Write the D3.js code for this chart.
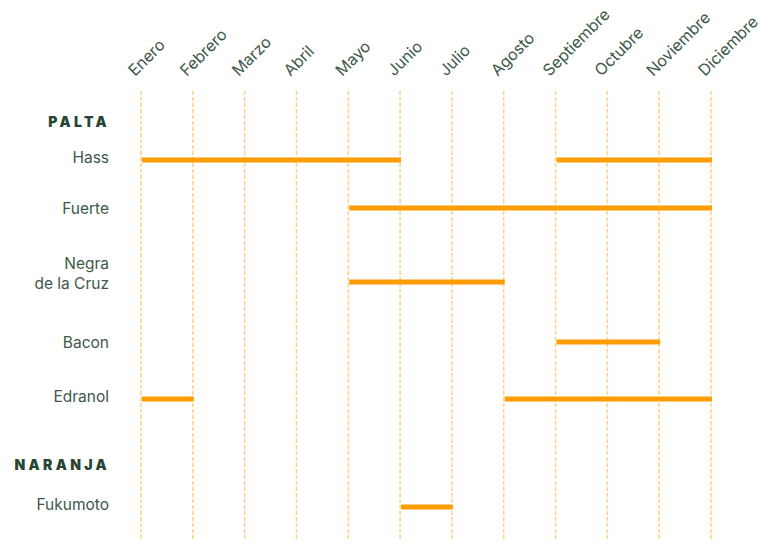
<!DOCTYPE html>
<html>
<head>
<meta charset="utf-8">
<script src="https://cdn.jsdelivr.net/npm/d3@7"></script>
<style>
  html, body { margin: 0; padding: 0; background: #fff; }
  svg { display: block; font-family: Inter, "Noto Sans", sans-serif; }
</style>
</head>
<body>
<svg id="chart" width="777" height="555"></svg>
<script>
// Months (tick labels)
const months = ["Enero","Febrero","Marzo","Abril","Mayo","Junio","Julio","Agosto","Septiembre","Octubre","Noviembre","Diciembre"];

// Rows: groups and varieties (label lines)
const groups = [
  { name: "PALTA", key: "g1" },
  { name: "NARANJA", key: "g2" }
];
const varieties = ["Hass", "Fuerte", "Negra de la Cruz", "Bacon", "Edranol", "Fukumoto"];
const varietyLines = [["Hass"], ["Fuerte"], ["Negra", "de la Cruz"], ["Bacon"], ["Edranol"], ["Fukumoto"]];

// Season segments: [variety, startMonth, endMonth]
const seasons = [
  ["Hass", "Enero", "Junio"],
  ["Hass", "Septiembre", "Diciembre"],
  ["Fuerte", "Mayo", "Diciembre"],
  ["Negra de la Cruz", "Mayo", "Agosto"],
  ["Bacon", "Septiembre", "Noviembre"],
  ["Edranol", "Enero", "Febrero"],
  ["Edranol", "Agosto", "Diciembre"],
  ["Fukumoto", "Junio", "Julio"]
];

// Row order along vertical axis (group headers & varieties)
const rowOrder = ["g1", "Hass", "Fuerte", "Negra de la Cruz", "Bacon", "Edranol", "g2", "Fukumoto"];
const rowPos = [122, 160, 208, 282, 342, 399, 465, 507]; // vertical layout per row
// label vertical offsets relative to row (layout)
const labelShift = [0, 0, 3, 6, 3, 0, 0, 0];

const svg = d3.select("#chart");
const barColor = "#ff9c00";
const gridColor = "#ffcf85";
const textColor = "#3e5849";
const headColor = "#274534";

const x = d3.scalePoint().domain(months).range([141, 711]);
const y = d3.scaleOrdinal().domain(rowOrder).range(rowPos);
const shift = d3.scaleOrdinal().domain(rowOrder).range(labelShift);

// Grid lines
svg.append("g").selectAll("line").data(months).join("line")
  .attr("x1", d => x(d)).attr("x2", d => x(d))
  .attr("y1", 91).attr("y2", 539)
  .attr("stroke", gridColor).attr("stroke-width", 1.5)
  .attr("stroke-dasharray", "4,2");

// Month labels
svg.append("g").selectAll("text").data(months).join("text")
  .attr("transform", d => `translate(${x(d) - 6},77) rotate(-45)`)
  .attr("fill", textColor)
  .attr("font-size", 16)
  .text(d => d);

// Group headers
svg.append("g").selectAll("text").data(groups).join("text")
  .attr("x", 110).attr("y", d => y(d.key) + 5)
  .attr("text-anchor", "end")
  .attr("fill", headColor)
  .attr("font-size", 14)
  .attr("font-weight", 900)
  .attr("letter-spacing", 3.3)
  .text(d => d.name);

// Variety labels
const lab = svg.append("g").selectAll("text").data(varieties).join("text")
  .attr("text-anchor", "end")
  .attr("fill", textColor)
  .attr("font-size", 15.5);
lab.each(function(d, i) {
  const lines = varietyLines[i];
  const t = d3.select(this);
  const base = y(d) + shift(d) + 3 - (lines.length - 1) * 20 - (lines.length > 1 ? 2 : 0);
  lines.forEach((ln, j) => {
    t.append("tspan").attr("x", 109).attr("y", base + j * 20).text(ln);
  });
});

// Bars
svg.append("g").selectAll("line").data(seasons).join("line")
  .attr("x1", d => x(d[1]) + 1)
  .attr("x2", d => x(d[2]) + 1)
  .attr("y1", d => y(d[0])).attr("y2", d => y(d[0]))
  .attr("stroke", barColor).attr("stroke-width", 5);
</script>
</body>
</html>
